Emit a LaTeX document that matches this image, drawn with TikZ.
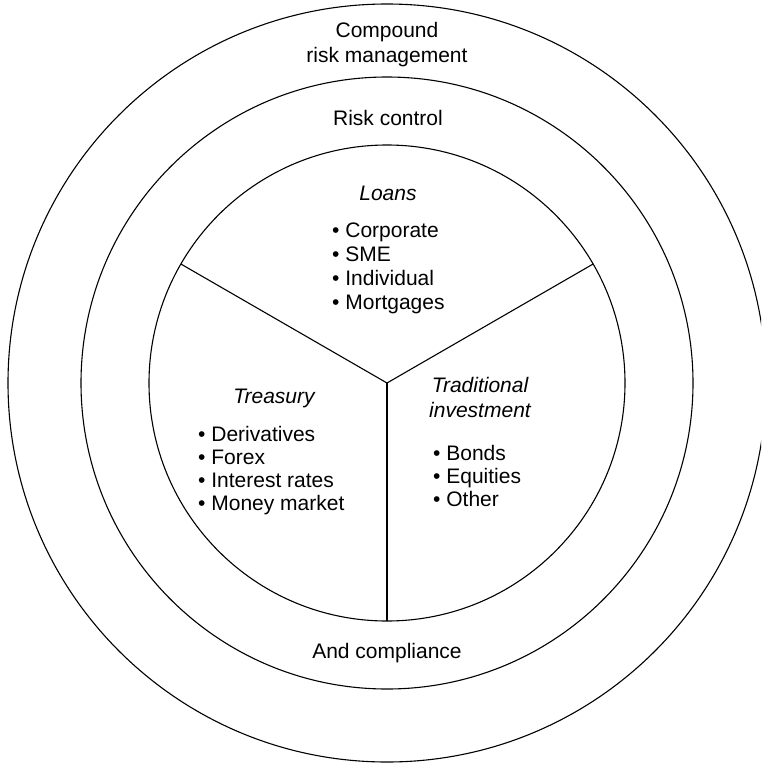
\documentclass[tikz,border=0pt]{standalone}
\usepackage{fontspec}
\setmainfont{Liberation Sans}
\begin{document}
\begin{tikzpicture}[x=1pt, y=-1pt,
  ring/.style={draw, circle, line width=1.1pt, inner sep=0pt, outer sep=0pt},
  spoke/.style={line width=1.1pt},
  txt/.style={font=\fontsize{21}{24}\selectfont, inner sep=0pt, anchor=base},
  head/.style={txt, font=\fontsize{21}{24}\selectfont\itshape},
  item/.style={txt, anchor=base west}]
\useasboundingbox (0,0) rectangle (761,763);
\clip (0,0) rectangle (761,763);

\coordinate (hub) at (387,383);

% three concentric rings
\node[ring, minimum size=758pt] (outer) at (hub) {};
\node[ring, minimum size=612pt] (middle) at (hub) {};
\node[ring, minimum size=476pt] (inner) at (hub) {};

% spokes dividing the inner disc into three sectors
\draw[spoke] (hub) -- (inner.150);
\draw[spoke] (hub) -- (inner.30);
\draw[spoke] (hub) -- (inner.270);

% ring labels
\node[txt] (compound) at (387,37) {Compound};
\node[txt] (riskmgmt) at (387,62) {risk management};
\node[txt] (riskctl) at (388,125) {Risk control};
\node[txt] (compliance) at (387,658) {And compliance};

% loans sector
\node[head] (loans) at (388,200) {Loans};
\node[item] (l1) at (332,237) {\textbullet\ Corporate};
\node[item] (l2) at (332,261) {\textbullet\ SME};
\node[item] (l3) at (332,285) {\textbullet\ Individual};
\node[item] (l4) at (332,309) {\textbullet\ Mortgages};

% treasury sector
\node[head] (treasury) at (274,403) {Treasury};
\node[item] (t1) at (198,441) {\textbullet\ Derivatives};
\node[item] (t2) at (198,464) {\textbullet\ Forex};
\node[item] (t3) at (198,487) {\textbullet\ Interest rates};
\node[item] (t4) at (198,510) {\textbullet\ Money market};

% traditional investment sector
\node[head] (trad) at (480,392) {Traditional};
\node[head] (invest) at (480,417) {investment};
\node[item] (i1) at (433,460) {\textbullet\ Bonds};
\node[item] (i2) at (433,483) {\textbullet\ Equities};
\node[item] (i3) at (433,506) {\textbullet\ Other};
\end{tikzpicture}
\end{document}
